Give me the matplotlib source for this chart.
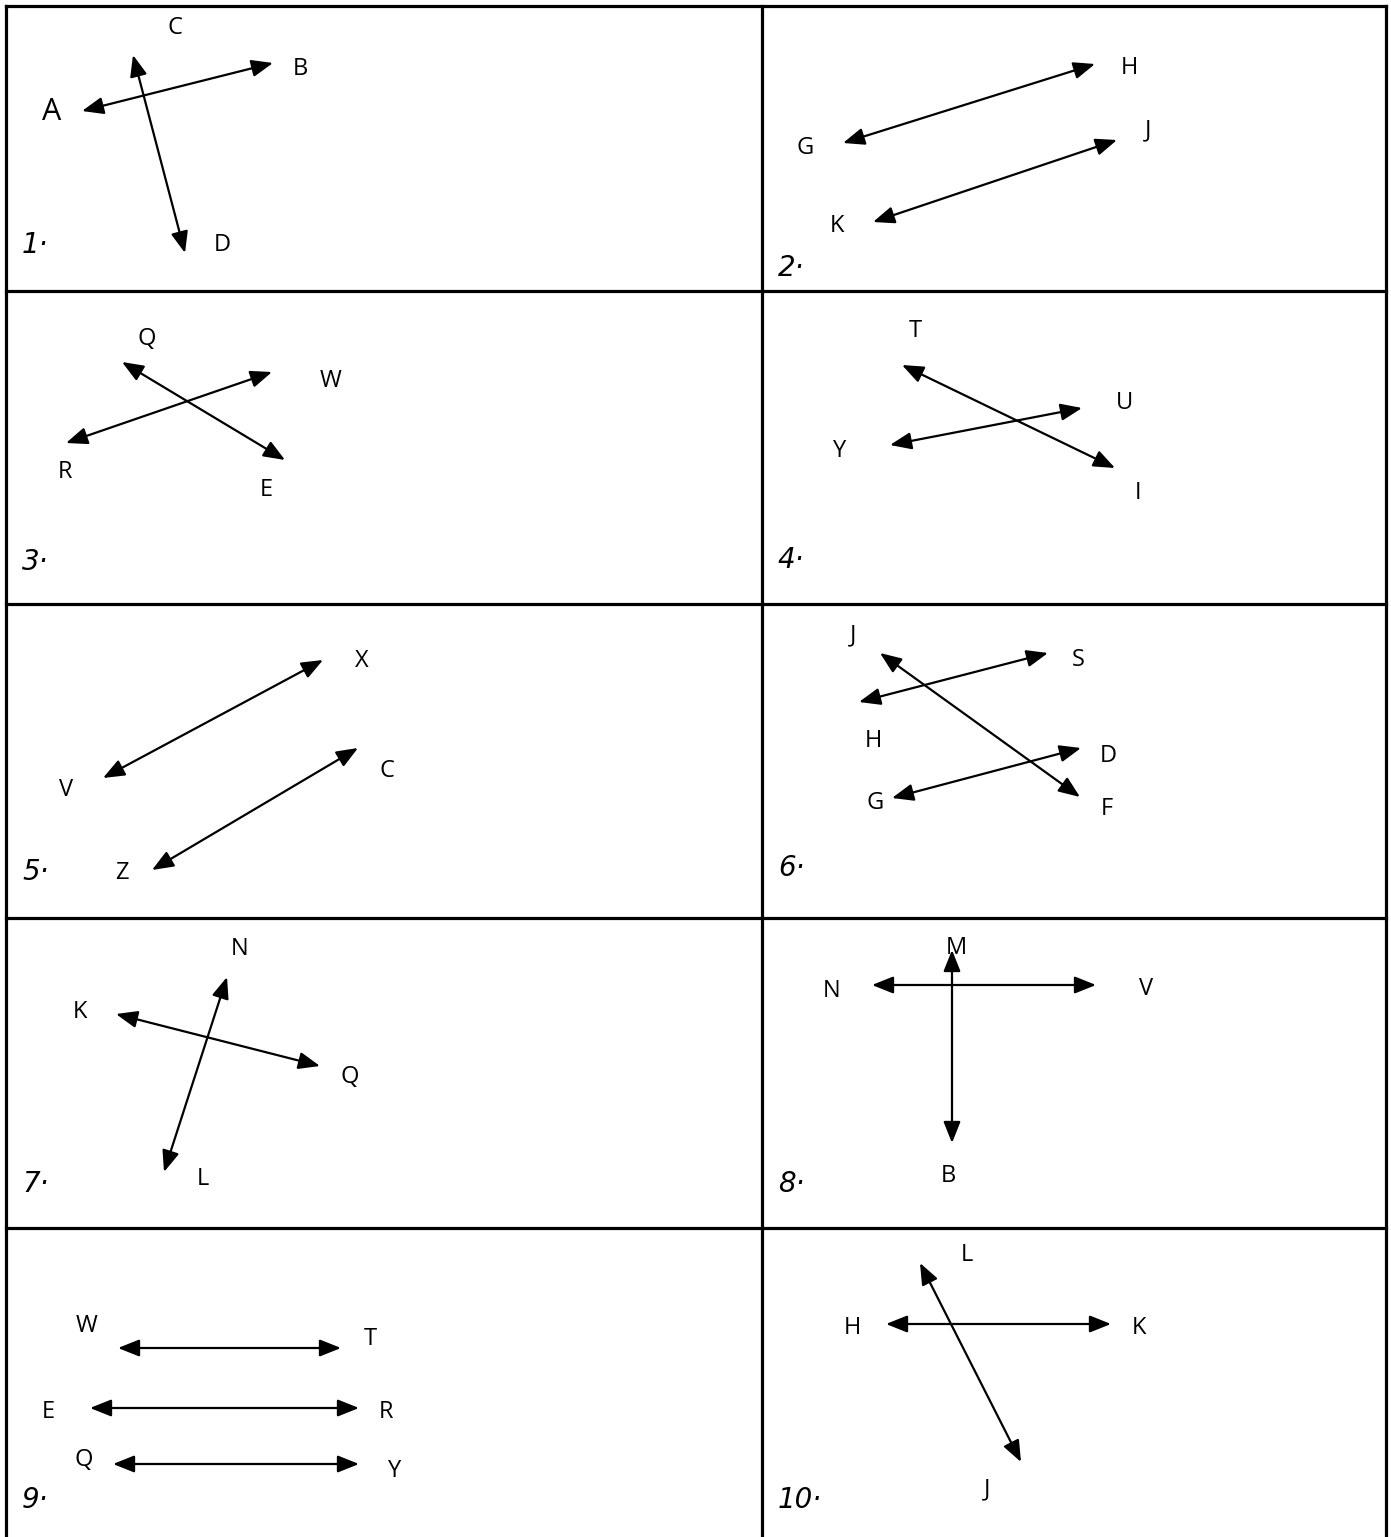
import matplotlib.pyplot as plt

# worksheet grid (pixel coords of the page)
col_edges = [6, 762, 1386]
row_edges = [6, 291, 604, 918, 1228, 1540]

# problem numbers and where they sit
numbers = ['1·', '2·', '3·', '4·', '5·', '6·', '7·', '8·', '9·', '10·']
number_pos = [(22, 245), (778, 268), (22, 562), (778, 560), (22, 872),
              (778, 868), (22, 1184), (778, 1184), (22, 1500), (778, 1500)]

# double-headed lines: (x1, y1, x2, y2)
lines = [
    (82, 111, 273, 63), (133, 55, 185, 253),                       # 1
    (843, 143, 1095, 64), (873, 222, 1117, 140),                   # 2
    (66, 443, 272, 372), (122, 362, 285, 460),                     # 3
    (902, 365, 1115, 468), (890, 445, 1082, 408),                  # 4
    (103, 778, 323, 660), (152, 870, 358, 748),                    # 5
    (880, 653, 1080, 797), (859, 702, 1048, 653), (892, 798, 1081, 748),  # 6
    (116, 1014, 320, 1066), (227, 977, 164, 1172),                 # 7
    (872, 985, 1096, 985), (952, 950, 952, 1143),                  # 8
    (118, 1348, 341, 1348), (90, 1408, 359, 1408), (113, 1464, 359, 1464),  # 9
    (886, 1324, 1111, 1324), (920, 1263, 1021, 1462),              # 10
]

# point labels
labels = ['C', 'B', 'A', 'D',
          'H', 'G', 'J', 'K',
          'Q', 'W', 'R', 'E',
          'T', 'U', 'Y', 'I',
          'X', 'V', 'C', 'Z',
          'J', 'S', 'H', 'D', 'G', 'F',
          'N', 'K', 'Q', 'L',
          'M', 'N', 'V', 'B',
          'W', 'T', 'E', 'R', 'Q', 'Y',
          'L', 'H', 'K', 'J']
label_pos = [(175, 28), (300, 69), (52, 112), (222, 245),
             (1129, 68), (805, 148), (1148, 130), (837, 226),
             (147, 339), (331, 381), (65, 472), (266, 490),
             (915, 331), (1125, 403), (840, 451), (1138, 493),
             (362, 661), (66, 790), (387, 771), (122, 873),
             (853, 635), (1078, 660), (873, 741), (1108, 756), (875, 803), (1107, 809),
             (240, 949), (80, 1012), (350, 1077), (203, 1179),
             (956, 948), (832, 991), (1146, 989), (948, 1176),
             (87, 1326), (370, 1339), (48, 1412), (386, 1412), (84, 1460), (395, 1471),
             (967, 1255), (852, 1328), (1139, 1328), (987, 1489)]

W, H = 1391, 1537
fig = plt.figure(figsize=(W / 100, H / 100), dpi=100)
ax = fig.add_axes([0, 0, 1, 1])
ax.set_xlim(0, W)
ax.set_ylim(H, 0)
ax.axis('off')

# grid lines
for x in col_edges:
    ax.plot([x, x], [row_edges[0], row_edges[-1]], color='black', lw=2.3, solid_capstyle='projecting')
for y in row_edges:
    ax.plot([col_edges[0], col_edges[-1]], [y, y], color='black', lw=2.3, solid_capstyle='projecting')

for x1, y1, x2, y2 in lines:
    ax.annotate('', xy=(x2, y2), xytext=(x1, y1),
                arrowprops=dict(arrowstyle='<|-|>,head_length=1.3,head_width=0.52',
                                color='black', lw=1.6, shrinkA=0, shrinkB=0))

for i, (txt, (x, y)) in enumerate(zip(labels, label_pos)):
    size = 22 if i == 2 else 17
    ax.text(x, y, txt, fontsize=size, family='Open Sans', ha='center', va='center')

for txt, (x, y) in zip(numbers, number_pos):
    ax.text(x, y, txt, fontsize=20, family='DejaVu Sans', style='italic',
            ha='left', va='center')

fig.savefig('out.png', dpi=100)
